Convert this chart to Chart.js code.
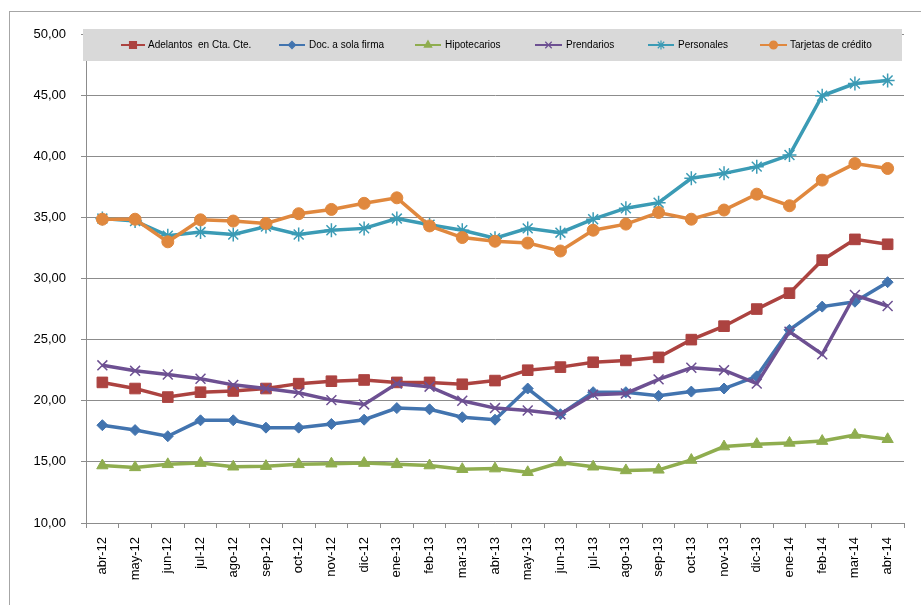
<!DOCTYPE html>
<html>
<head>
<meta charset="utf-8">
<script src="https://cdn.jsdelivr.net/npm/chart.js@4/dist/chart.umd.min.js"></script>
<style>
  html, body { margin: 0; padding: 0; background: #fff; }
  #grafico { display: block; }
</style>
</head>
<body>
<canvas id="grafico" width="921" height="605"></canvas>
<script>
// Meses
const meses = ['abr-12', 'may-12', 'jun-12', 'jul-12', 'ago-12', 'sep-12', 'oct-12', 'nov-12', 'dic-12',
  'ene-13', 'feb-13', 'mar-13', 'abr-13', 'may-13', 'jun-13', 'jul-13', 'ago-13', 'sep-13', 'oct-13',
  'nov-13', 'dic-13', 'ene-14', 'feb-14', 'mar-14', 'abr-14'];

// Tasas por tipo de préstamo (%)
const adelantos = [21.5, 21.0, 20.3, 20.7, 20.8, 21.0, 21.4, 21.6, 21.7, 21.5, 21.5, 21.35, 21.65,
  22.5, 22.75, 23.15, 23.3, 23.55, 25.0, 26.1, 27.5, 28.8, 31.5, 33.2, 32.8];
const docFirma = [18.0, 17.6, 17.1, 18.4, 18.4, 17.8, 17.8, 18.1, 18.45, 19.4, 19.3, 18.65, 18.45,
  21.0, 18.9, 20.7, 20.7, 20.4, 20.75, 21.0, 22.0, 25.8, 27.7, 28.1, 29.7];
const hipotecarios = [14.7, 14.55, 14.8, 14.9, 14.6, 14.65, 14.8, 14.85, 14.9, 14.8, 14.7, 14.4, 14.45,
  14.15, 14.95, 14.6, 14.3, 14.35, 15.15, 16.25, 16.45, 16.55, 16.7, 17.2, 16.85];
const prendarios = [22.9, 22.45, 22.15, 21.8, 21.3, 21.0, 20.65, 20.05, 19.7, 21.4, 21.15, 20.0, 19.4,
  19.2, 18.9, 20.5, 20.6, 21.75, 22.7, 22.5, 21.4, 25.65, 23.8, 28.65, 27.75];
const personales = [34.9, 34.7, 33.5, 33.8, 33.6, 34.25, 33.6, 33.95, 34.1, 34.9, 34.4, 33.95, 33.3,
  34.1, 33.75, 34.85, 35.75, 36.2, 38.2, 38.6, 39.15, 40.1, 44.95, 45.95, 46.2];
const tarjetas = [34.85, 34.85, 33.0, 34.8, 34.7, 34.5, 35.3, 35.65, 36.15, 36.6, 34.3, 33.35, 33.05,
  32.9, 32.25, 33.95, 34.45, 35.4, 34.85, 35.6, 36.9, 35.95, 38.05, 39.4, 39.0];

const series = [
  { nombre: 'Adelantos  en Cta. Cte.', datos: adelantos, color: '#AC4340', marca: 'rect', radio: 7.5 },
  { nombre: 'Doc. a sola firma', datos: docFirma, color: '#4274AF', marca: 'rectRot', radio: 5.5 },
  { nombre: 'Hipotecarios', datos: hipotecarios, color: '#8FAD4F', marca: 'triangle', radio: 6.5 },
  { nombre: 'Prendarios', datos: prendarios, color: '#6D5092', marca: 'crossRot', radio: 7 },
  { nombre: 'Personales', datos: personales, color: '#3B9BB5', marca: 'star', radio: 7 },
  { nombre: 'Tarjetas de crédito', datos: tarjetas, color: '#E0883E', marca: 'circle', radio: 6 }
];

const grisEje = '#8C8C8C';
const fuente = 'Liberation Sans, Arial, sans-serif';

// Marco exterior
const marco = {
  id: 'marco',
  beforeDraw(chart) {
    const ctx = chart.ctx;
    ctx.save();
    ctx.strokeStyle = '#A6A6A6';
    ctx.lineWidth = 1;
    ctx.strokeRect(9.5, 11.5, 1000, 1000);
    ctx.restore();
  }
};

// Leyenda sobre la franja gris dentro del área del gráfico
const leyenda = {
  id: 'leyenda',
  afterDraw(chart) {
    const ctx = chart.ctx;
    const pos = [[121, 145, 148], [279, 305, 309], [415, 441, 445], [535, 562, 566], [648, 674, 678], [760, 787, 790]];
    const y = 45;
    ctx.save();
    ctx.fillStyle = '#D9D9D9';
    ctx.fillRect(83, 29, 819, 32);
    ctx.font = '10px ' + fuente;
    ctx.textBaseline = 'middle';
    series.forEach((s, i) => {
      const [x1, x2, xt] = pos[i];
      ctx.strokeStyle = s.color;
      ctx.lineWidth = 2;
      ctx.beginPath();
      ctx.moveTo(x1, y);
      ctx.lineTo(x2, y);
      ctx.stroke();
      if (Chart.helpers && Chart.helpers.drawPoint) {
        ctx.fillStyle = s.color;
        ctx.lineWidth = 1.2;
        Chart.helpers.drawPoint(ctx, { pointStyle: s.marca, radius: s.radio * 0.65, rotation: 0, borderWidth: 1.2 }, (x1 + x2) / 2, y);
      }
      ctx.fillStyle = '#000';
      ctx.fillText(s.nombre, xt, y);
    });
    ctx.restore();
  }
};

new Chart(document.getElementById('grafico'), {
  type: 'line',
  data: {
    labels: meses,
    datasets: series.map((s, i) => ({
      label: s.nombre,
      data: s.datos,
      borderColor: s.color,
      backgroundColor: s.color,
      borderWidth: 3.5,
      pointStyle: s.marca,
      pointRadius: s.radio,
      pointBorderWidth: (s.marca === 'crossRot' || s.marca === 'star') ? 1.5 : 1,
      tension: 0,
      order: series.length - i
    }))
  },
  options: {
    responsive: false,
    animation: false,
    layout: { padding: { top: 34, right: 17, left: 0, bottom: 0 } },
    plugins: {
      legend: { display: false },
      tooltip: { enabled: false }
    },
    scales: {
      x: {
        offset: true,
        afterFit(scale) { scale.height = 82; },
        grid: { offset: true, drawOnChartArea: false, tickLength: 5, color: grisEje },
        border: { color: grisEje },
        ticks: {
          autoSkip: false,
          minRotation: 90,
          maxRotation: 90,
          padding: 9,
          color: '#000',
          font: { family: fuente, size: 13 }
        }
      },
      y: {
        min: 10,
        max: 50,
        afterFit(scale) { scale.width = 86; },
        grid: { color: grisEje, tickLength: 5 },
        border: { color: grisEje },
        ticks: {
          stepSize: 5,
          padding: 15,
          color: '#000',
          font: { family: fuente, size: 13 },
          callback: v => v.toFixed(2).replace('.', ',')
        }
      }
    }
  },
  plugins: [marco, leyenda]
});
</script>
</body>
</html>
